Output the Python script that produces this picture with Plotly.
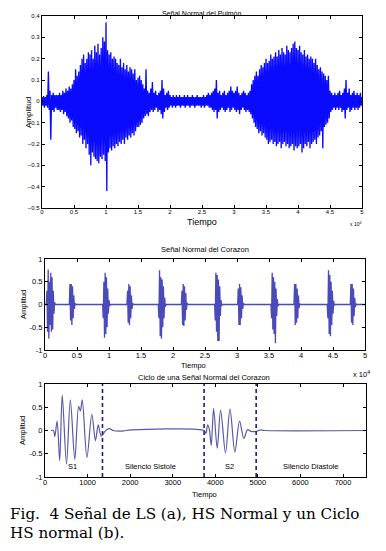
import plotly.graph_objects as go

# ---------------- Panel (a): lung sound, read as upper/lower extremes every 250 samples (0..50000)
lung_step = 250
lung_upper = [
    0.02, 0.025, 0.02, 0.03, 0.14, 0.05, 0.03, 0.04, 0.03, 0.03,
    0.03, 0.04, 0.03, 0.05, 0.04, 0.06, 0.05, 0.07, 0.06, 0.08,
    0.10, 0.15, 0.12, 0.14, 0.17, 0.20, 0.22, 0.18, 0.20, 0.23,
    0.22, 0.24, 0.20, 0.26, 0.23, 0.27, 0.22, 0.25, 0.30, 0.28,
    0.37, 0.24, 0.22, 0.23, 0.20, 0.21, 0.20, 0.18, 0.17, 0.20,
    0.16, 0.18, 0.15, 0.17, 0.14, 0.16, 0.15, 0.13, 0.15, 0.10,
    0.11, 0.12, 0.10, 0.08, 0.06, 0.15, 0.05, 0.04, 0.06, 0.09,
    0.04, 0.05, 0.03, 0.04, 0.05, 0.10, 0.06, 0.03, 0.04, 0.05,
    0.03, 0.02, 0.03, 0.02, 0.03, 0.02, 0.03, 0.02, 0.02, 0.03,
    0.02, 0.03, 0.02, 0.02, 0.03, 0.02, 0.02, 0.03, 0.02, 0.02,
    0.02, 0.03, 0.02, 0.03, 0.04, 0.03, 0.04, 0.05, 0.06, 0.10,
    0.04, 0.05, 0.03, 0.04, 0.05, 0.03, 0.04, 0.05, 0.07, 0.05,
    0.04, 0.05, 0.07, 0.04, 0.03, 0.04, 0.05, 0.04, 0.03, 0.04,
    0.05, 0.08, 0.10, 0.12, 0.14, 0.12, 0.15, 0.17, 0.16, 0.18,
    0.20, 0.18, 0.19, 0.22, 0.20, 0.21, 0.23, 0.21, 0.24, 0.22,
    0.25, 0.23, 0.22, 0.26, 0.24, 0.23, 0.25, 0.27, 0.28, 0.25,
    0.24, 0.26, 0.23, 0.22, 0.24, 0.21, 0.22, 0.20, 0.21, 0.20,
    0.18, 0.20, 0.17, 0.15, 0.16, 0.14, 0.13, 0.12, 0.10, 0.12,
    0.05, 0.04, 0.03, 0.04, 0.03, 0.04, 0.05, 0.03, 0.04, 0.06,
    0.10, 0.04, 0.06, 0.03, 0.04, 0.05, 0.03, 0.04, 0.03, 0.04,
    0.02,
]
lung_lower = [
    -0.02, -0.03, -0.02, -0.03, -0.04, -0.18, -0.04, -0.05, -0.03, -0.04,
    -0.04, -0.05, -0.04, -0.06, -0.05, -0.07, -0.08, -0.10, -0.09, -0.12,
    -0.13, -0.15, -0.14, -0.17, -0.16, -0.20, -0.18, -0.22, -0.20, -0.25,
    -0.30, -0.24, -0.26, -0.27, -0.28, -0.29, -0.26, -0.27, -0.25, -0.28,
    -0.42, -0.24, -0.22, -0.23, -0.21, -0.22, -0.20, -0.21, -0.19, -0.20,
    -0.18, -0.20, -0.17, -0.18, -0.16, -0.17, -0.15, -0.16, -0.14, -0.12,
    -0.12, -0.11, -0.10, -0.08, -0.07, -0.06, -0.07, -0.05, -0.04, -0.05,
    -0.04, -0.03, -0.05, -0.04, -0.06, -0.08, -0.05, -0.03, -0.04, -0.03,
    -0.02, -0.03, -0.02, -0.03, -0.02, -0.02, -0.03, -0.02, -0.02, -0.03,
    -0.02, -0.02, -0.03, -0.02, -0.02, -0.03, -0.02, -0.02, -0.02, -0.03,
    -0.02, -0.03, -0.02, -0.02, -0.03, -0.03, -0.04, -0.05, -0.04, -0.08,
    -0.05, -0.04, -0.03, -0.04, -0.05, -0.04, -0.03, -0.05, -0.04, -0.03,
    -0.04, -0.05, -0.04, -0.06, -0.04, -0.03, -0.04, -0.05, -0.04, -0.05,
    -0.06, -0.08, -0.10, -0.12, -0.13, -0.15, -0.14, -0.16, -0.15, -0.17,
    -0.18, -0.20, -0.19, -0.18, -0.20, -0.19, -0.21, -0.20, -0.19, -0.22,
    -0.20, -0.19, -0.21, -0.20, -0.22, -0.21, -0.20, -0.23, -0.21, -0.22,
    -0.21, -0.20, -0.24, -0.22, -0.20, -0.21, -0.19, -0.22, -0.20, -0.19,
    -0.18, -0.20, -0.17, -0.16, -0.14, -0.22, -0.12, -0.11, -0.10, -0.08,
    -0.05, -0.04, -0.03, -0.04, -0.03, -0.04, -0.03, -0.05, -0.04, -0.08,
    -0.04, -0.03, -0.05, -0.04, -0.03, -0.04, -0.03, -0.04, -0.03, -0.02,
    -0.02,
]
lung_xticks = [0, 5000, 10000, 15000, 20000, 25000, 30000, 35000, 40000, 45000, 50000]
lung_xlabels = ["0", "0.5", "1", "1.5", "2", "2.5", "3", "3.5", "4", "4.5", "5"]
lung_yticks = [-0.5, -0.4, -0.3, -0.2, -0.1, 0, 0.1, 0.2, 0.3, 0.4]

# ---------------- Panel (b top): heart sound bursts (S1 / S2), values every 100 samples
heart_step = 100
heart_burst_start = [200, 3800, 9000, 12800, 17700, 21300, 26500, 30100, 35300, 38900, 44100, 47700]
heart_burst_values = [
    [0.0, 0.3, -0.6, 0.77, -0.75, 0.5, -0.45, 0.7, -0.6, 0.6, -0.55, 0.3, -0.2, 0.05, 0.0],
    [0.0, 0.45, -0.35, 0.45, -0.45, 0.4, -0.3, 0.2, -0.1, 0.03, 0.0],
    [0.0, -0.3, 0.5, -0.73, 0.7, -0.65, 0.6, -0.5, 0.35, -0.2, 0.1, -0.03, 0.0],
    [0.0, 0.3, -0.4, 0.45, -0.45, 0.4, -0.3, 0.2, -0.1, 0.03, 0.0],
    [0.0, -0.3, 0.75, -0.7, 0.6, -0.75, 0.55, -0.5, 0.4, -0.3, 0.15, -0.05, 0.0],
    [0.0, 0.3, -0.45, 0.45, -0.47, 0.4, -0.35, 0.25, -0.12, 0.04, 0.0],
    [0.0, -0.35, 0.7, -0.6, 0.65, -0.8, 0.55, -0.8, 0.4, -0.25, 0.1, -0.03, 0.0],
    [0.0, 0.35, -0.45, 0.45, -0.45, 0.38, -0.3, 0.2, -0.1, 0.03, 0.0],
    [0.0, -0.3, 0.7, -0.55, 0.6, -0.65, 0.5, -0.85, 0.35, -0.25, 0.12, -0.04, 0.0],
    [0.0, 0.45, -0.45, 0.45, -0.4, 0.35, -0.3, 0.2, -0.08, 0.02, 0.0],
    [0.0, -0.3, 0.75, -0.65, 0.65, -0.7, 0.5, -0.45, 0.3, -0.2, 0.08, -0.02, 0.0],
    [0.0, 0.45, -0.4, 0.45, -0.45, 0.35, -0.25, 0.15, -0.06, 0.02, 0.0],
]
heart_xticks = lung_xticks
heart_xlabels = lung_xlabels
amp_ticks = [-1, -0.5, 0, 0.5, 1]
amp_labels = ["-1", "-0.5", "0", "0.5", "1"]

# ---------------- Panel (b bottom): one cardiac cycle
cycle_time = [140, 200, 230, 285, 345, 405, 505, 595, 700, 790, 830, 875, 985, 1100, 1185, 1250,
              1320, 1400, 1450, 1520, 1600, 1850, 1900, 3737, 3780, 3820, 3860, 3905, 3960, 4045,
              4125, 4240, 4345, 4460, 4570, 4670, 4760, 4840, 4960, 5050, 5150, 7540]
cycle_amp = [0, 0, -0.13, 0.2, -0.65, 0.76, -0.72, 0.66, -0.62, 0.52, 0.42, 0.66, -0.58, 0.35, -0.22, 0.12,
             -0.12, -0.03, 0.02, 0.04, 0.0, -0.01, 0.0, 0.0, -0.06, 0.12, 0.03, -0.32, 0.47, -0.38,
             0.44, -0.48, 0.46, -0.46, 0.2, -0.17, 0.02, -0.02, -0.02, 0.01, 0.0, 0.0]
boundary_time = [1350, 3737, 4960]
phase_labels = ["S1", "Silencio Sistole", "S2", "Silencio Diastole"]
phase_label_time = [640, 2470, 4340, 6240]
cycle_xticks = [0, 1000, 2000, 3000, 4000, 5000, 6000, 7000]

# ---------------- build series
lung_x, lung_y = [], []
for i, (u, l) in enumerate(zip(lung_upper, lung_lower)):
    lung_x += [i * lung_step, i * lung_step + lung_step / 2]
    lung_y += [u, l]

heart_x, heart_y = [0], [0.0]
for start, vals in zip(heart_burst_start, heart_burst_values):
    for i, v in enumerate(vals):
        heart_x.append(start + i * heart_step)
        heart_y.append(v)
heart_x.append(50000)
heart_y.append(0.0)

# The page body has an 8px default margin; lay out in page pixels and compensate.
OFF = 8
W, H = 386 - OFF, 551 - OFF
def px(x):
    return (x - OFF) / W
def py(y):
    return 1 - (y - OFF) / H
def dx(a, b):
    return [px(a), px(b)]
def dy(top, bottom):
    return [py(bottom), py(top)]

FONT = "Liberation Sans, Arial, sans-serif"
fig = go.Figure()
fig.add_trace(go.Scatter(x=lung_x, y=lung_y, mode="lines", line=dict(color="#0a0aff", width=1.35),
                         xaxis="x", yaxis="y", hoverinfo="skip"))
fig.add_trace(go.Scatter(x=heart_x, y=heart_y, mode="lines", line=dict(color="#4a4ab8", width=1.3),
                         xaxis="x2", yaxis="y2", hoverinfo="skip"))
fig.add_trace(go.Scatter(x=cycle_time, y=cycle_amp, mode="lines", line=dict(color="#5a5aa8", width=1.2, shape="spline", smoothing=0.9),
                         xaxis="x3", yaxis="y3", hoverinfo="skip"))
for bt in boundary_time:
    fig.add_trace(go.Scatter(x=[bt, bt], y=[-1, 1], mode="lines",
                             line=dict(color="#1c1c8c", width=1.6, dash="4px,3px"),
                             xaxis="x3", yaxis="y3", hoverinfo="skip"))

def ax(**kw):
    base = dict(showgrid=False, zeroline=False, showline=True, mirror="ticks", ticks="inside",
                ticklen=3, linecolor="#000000", tickcolor="#000000", linewidth=1, automargin=False)
    base.update(kw)
    return base

fig.update_layout(
    width=W, height=H, margin=dict(l=0, r=0, t=0, b=0), showlegend=False,
    paper_bgcolor="white", plot_bgcolor="white", font=dict(family=FONT, color="#000"),
    xaxis=ax(domain=dx(42, 362), range=[0, 50000], tickvals=lung_xticks, ticktext=lung_xlabels,
             tickfont=dict(size=6), linewidth=1.4, anchor="y", ticklabelstandoff=-2),
    yaxis=ax(domain=dy(16, 208), range=[-0.5, 0.4], tickvals=lung_yticks,
             tickfont=dict(size=6), linewidth=1.4, anchor="x"),
    xaxis2=ax(domain=dx(45, 365), range=[0, 50000], tickvals=heart_xticks, ticktext=heart_xlabels,
              tickfont=dict(size=7.5), anchor="y2", ticklabelstandoff=-2),
    yaxis2=ax(domain=dy(259, 350), range=[-1, 1], tickvals=amp_ticks, ticktext=amp_labels,
              tickfont=dict(size=7.5), anchor="x2"),
    xaxis3=ax(domain=dx(45, 366), range=[0, 7540], tickvals=cycle_xticks,
              tickfont=dict(size=7.5), anchor="y3", ticklabelstandoff=-2),
    yaxis3=ax(domain=dy(384, 477), range=[-1, 1], tickvals=amp_ticks, ticktext=amp_labels,
              tickfont=dict(size=7.5), anchor="x3"),
)

def txt(text, x, y, size, xanchor="center", angle=0, family=FONT, yanchor="middle"):
    fig.add_annotation(text=text, x=px(x), y=py(y), xref="paper", yref="paper",
                       showarrow=False, xanchor=xanchor, yanchor=yanchor, textangle=angle,
                       borderpad=0, font=dict(size=size, family=family, color="#000"))

# panel (a) texts
txt("Señal Normal del Pulmón", 201, 8.5, 7, yanchor="top")
txt("Tiempo", 202, 222, 9)
txt("Amplitud", 28, 113, 8, angle=-90)
txt("x 10<sup>4</sup>", 355, 224, 5)
# panel (b) top texts
txt("Señal Normal del Corazon", 205, 250, 7.5)
txt("Tiempo", 193, 365, 7.5)
txt("Amplitud", 23, 305, 7.5, angle=-90)
txt("x 10<sup>4</sup>", 361, 374, 7.5)
# panel (b) bottom texts
txt("Ciclo de una Señal Normal del Corazon", 204, 377, 7.5)
txt("Tiempo", 204, 494, 7.5)
txt("Amplitud", 22, 431, 7.5, angle=-90)
for lab, t in zip(phase_labels, phase_label_time):
    fig.add_annotation(text=lab, x=t, y=-0.78, xref="x3", yref="y3", showarrow=False,
                       font=dict(size=7.5, family=FONT, color="#000"))
# caption
CAP = "DejaVu Serif, serif"
txt("Fig.  4 Señal de LS (a), HS Normal y un Ciclo", 9, 514, 15.2, xanchor="left", family=CAP)
txt("HS normal (b).", 9, 533, 15.2, xanchor="left", family=CAP)

fig.write_html("out.html")
